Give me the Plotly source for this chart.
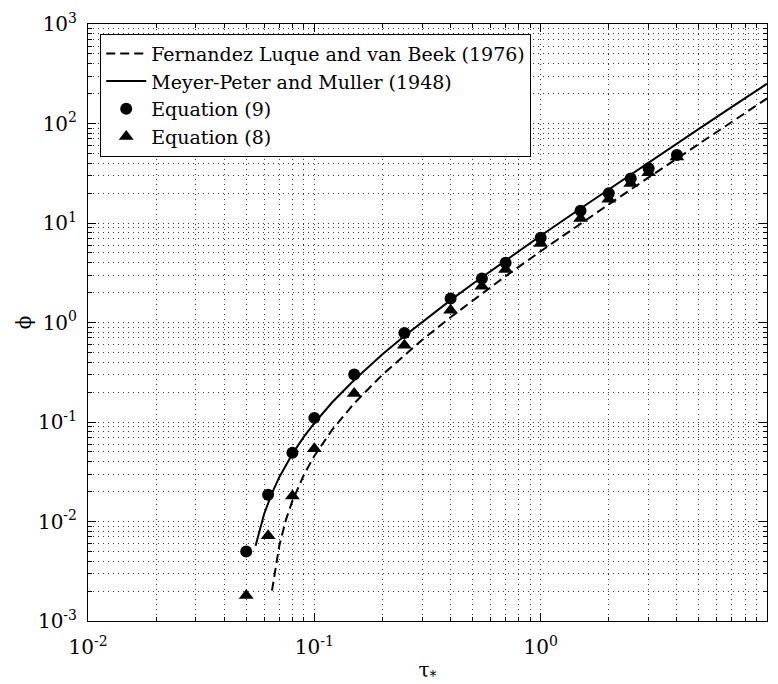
import plotly.graph_objects as go

# Fernandez Luque and van Beek (1976) curve
flvb_tau = [0.065, 0.07, 0.075, 0.08, 0.09, 0.1, 0.12, 0.15, 0.2, 0.25, 0.3, 0.4,
            0.5, 0.7, 1.0, 1.5, 2.0, 3.0, 5.0, 7.0, 10.0]
flvb_phi = [0.00202, 0.0057, 0.0105, 0.0161, 0.0296, 0.0456, 0.0838, 0.154, 0.299,
            0.472, 0.670, 1.13, 1.66, 2.92, 5.20, 9.85, 15.4, 28.7, 62.6, 104.2, 178.6]

# Meyer-Peter and Muller (1948) curve
mpm_tau = [0.055, 0.06, 0.065, 0.07, 0.08, 0.09, 0.1, 0.12, 0.15, 0.2, 0.25, 0.3,
           0.4, 0.5, 0.7, 1.0, 1.5, 2.0, 3.0, 5.0, 7.0, 10.0]
mpm_phi = [0.0057, 0.0119, 0.0193, 0.0279, 0.048, 0.0713, 0.0976, 0.158, 0.264,
           0.479, 0.732, 1.018, 1.678, 2.44, 4.22, 7.44, 14.0, 21.8, 40.6, 88.2,
           146.7, 251.2]

# Equation (9) points
eq9_tau = [0.05, 0.0625, 0.08, 0.1, 0.15, 0.25, 0.4, 0.55, 0.7, 1.0, 1.5, 2.0, 2.5, 3.0, 4.0]
eq9_phi = [0.0050, 0.0186, 0.049, 0.110, 0.300, 0.785, 1.74, 2.77, 3.98, 7.1, 13.3,
           19.9, 28.0, 35.4, 48.2]

# Equation (8) points
eq8_tau = [0.05, 0.0625, 0.08, 0.1, 0.15, 0.25, 0.4, 0.55, 0.7, 1.0, 1.5, 2.0, 2.5, 3.0, 4.0]
eq8_phi = [0.0018, 0.0072, 0.018, 0.054, 0.193, 0.59, 1.33, 2.32, 3.41, 6.24, 11.1,
           17.3, 25.0, 32.0, 46.0]

x_tickvals = [0.01, 0.1, 1, 10]
x_ticktext = ["10<sup>-2</sup>", "10<sup>-1</sup>", "10<sup>0</sup>", "10<sup>1</sup>"]
y_tickvals = [0.001, 0.01, 0.1, 1, 10, 100, 1000]
y_ticktext = ["10<sup>-3</sup>", "10<sup>-2</sup>", "10<sup>-1</sup>", "10<sup>0</sup>",
              "10<sup>1</sup>", "10<sup>2</sup>", "10<sup>3</sup>"]

FONT = "DejaVu Serif"
GRIDC = "#3a3a3a"
GRIDDASH = "1px,4px"

fig = go.Figure()
fig.add_trace(go.Scatter(x=flvb_tau, y=flvb_phi, mode="lines",
                         name="Fernandez Luque and van Beek (1976)",
                         line=dict(color="black", width=2, dash="9px,5px")))
fig.add_trace(go.Scatter(x=mpm_tau, y=mpm_phi, mode="lines",
                         name="Meyer-Peter and Muller (1948)",
                         line=dict(color="black", width=2)))
fig.add_trace(go.Scatter(x=eq9_tau, y=eq9_phi, mode="markers", name="Equation (9)",
                         marker=dict(symbol="circle", size=12, color="black")))
fig.add_trace(go.Scatter(x=eq8_tau, y=eq8_phi, mode="markers", name="Equation (8)",
                         marker=dict(symbol="triangle-up", size=13, color="black")))

axis_common = dict(
    type="log", showline=True, linecolor="black", linewidth=1, mirror="ticks",
    ticks="inside", ticklen=8, tickcolor="black", tickwidth=1,
    tickfont=dict(family=FONT, size=20, color="black"),
    tickmode="array", zeroline=False, showgrid=True,
    gridcolor=GRIDC, griddash=GRIDDASH, gridwidth=1,
    minor=dict(dtick="D1", ticks="inside", ticklen=4, tickcolor="black",
               showgrid=True, gridcolor=GRIDC, griddash=GRIDDASH, gridwidth=1),
)

fig.update_xaxes(range=[-2, 1], tickvals=x_tickvals, ticktext=x_ticktext,
                 ticklabelstandoff=8,
                 title=dict(text="τ<sub>*</sub>", font=dict(family=FONT, size=20, color="black"),
                            standoff=12),
                 **axis_common)
fig.update_yaxes(range=[-3, 3], tickvals=y_tickvals, ticktext=y_ticktext,
                 ticklabelstandoff=6,
                 title=dict(text="ϕ", font=dict(family=FONT, size=20, color="black"),
                            standoff=0),
                 **axis_common)

fig.update_layout(
    width=778, height=684,
    margin=dict(l=88, r=11, t=24, b=63, autoexpand=False),
    plot_bgcolor="white", paper_bgcolor="white",
    font=dict(family=FONT, size=20, color="black"),
    legend=dict(x=0.018, y=0.984, xanchor="left", yanchor="top",
                bgcolor="white", bordercolor="black", borderwidth=1,
                font=dict(family=FONT, size=19, color="black"),
                tracegroupgap=0, itemwidth=40),
    showlegend=True,
)

fig.write_html("out.html")
